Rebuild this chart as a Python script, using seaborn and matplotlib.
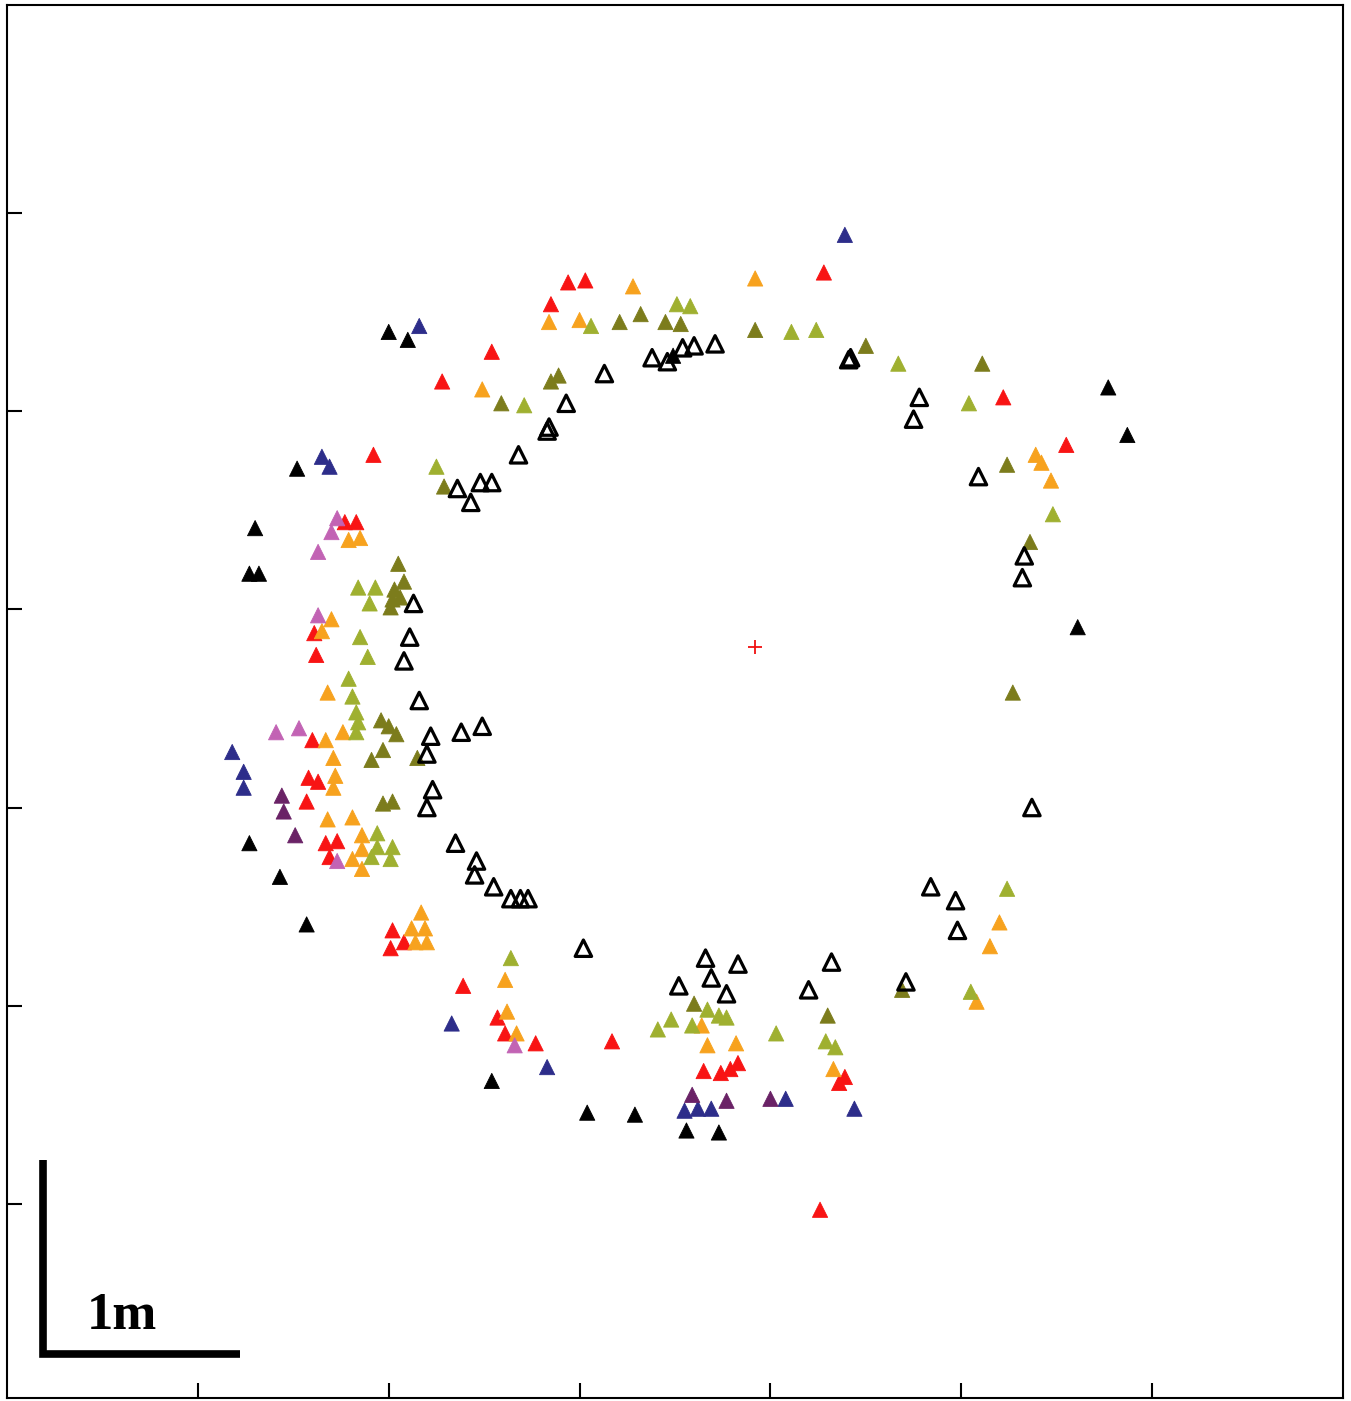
import matplotlib
matplotlib.use("Agg")
import matplotlib.pyplot as plt
import seaborn as sns
import pandas as pd

# ------------------------------------------------------------------ #
# Find positions (m)
# ------------------------------------------------------------------ #
black_x = [2.00, 2.10, 1.52, 1.30, 1.27, 1.32, 1.27, 1.43, 1.57, 2.54, 3.04, 3.29,
           3.56, 3.73, 5.77, 5.87, 5.61, 3.49]
black_y = [5.40, 5.36, 4.71, 4.41, 4.18, 4.18, 2.82, 2.65, 2.41, 1.62, 1.46, 1.45,
           1.37, 1.36, 5.12, 4.88, 3.91, 5.28]

open_x = [2.68, 2.36, 2.48, 2.54, 2.43, 3.38, 3.46, 3.54, 3.60, 3.71, 3.13, 2.93,
          2.83, 2.84, 4.42, 4.41, 4.78, 4.75, 5.09, 5.33, 5.32, 5.37, 4.84, 4.97,
          4.98, 4.32, 4.20, 4.71, 3.66, 3.83, 3.69, 3.52, 3.77, 3.02, 2.64, 2.69,
          2.73, 2.55, 2.46, 2.45, 2.35, 2.23, 2.20, 2.20, 2.22, 2.38, 2.49, 2.16,
          2.08, 2.11, 2.13]
open_y = [4.78, 4.61, 4.64, 4.64, 4.54, 5.27, 5.25, 5.32, 5.33, 5.34, 5.19, 5.04,
          4.90, 4.92, 5.27, 5.26, 5.07, 4.96, 4.67, 4.27, 4.16, 3.00, 2.60, 2.53,
          2.38, 2.22, 2.08, 2.12, 2.24, 2.21, 2.14, 2.10, 2.06, 2.29, 2.54, 2.54,
          2.54, 2.60, 2.73, 2.66, 2.82, 3.09, 3.00, 3.27, 3.36, 3.38, 3.41, 3.54,
          3.74, 3.86, 4.03]

red_x = [2.54, 2.28, 1.92, 1.83, 1.77, 2.94, 3.03, 2.85, 4.28, 5.22, 5.55, 4.36,
         4.39, 4.26, 3.65, 3.74, 3.79, 3.83, 2.77, 3.17, 2.57, 2.61, 2.39, 2.02,
         2.01, 2.08, 1.61, 1.62, 1.60, 1.58, 1.63, 1.57, 1.67, 1.73, 1.69]
red_y = [5.30, 5.15, 4.78, 4.44, 4.44, 5.65, 5.66, 5.54, 5.70, 5.07, 4.83, 1.61,
         1.64, 0.97, 1.67, 1.66, 1.68, 1.71, 1.81, 1.82, 1.94, 1.86, 2.10, 2.38,
         2.29, 2.32, 3.88, 3.77, 3.34, 3.15, 3.13, 3.03, 2.82, 2.83, 2.75]

orange_x = [2.49, 1.79, 1.85, 3.28, 3.92, 2.84, 3.00, 5.39, 5.42, 5.47, 5.20, 5.15,
            5.08, 4.33, 3.64, 3.67, 3.82, 2.17, 2.19, 2.12, 2.14, 2.20, 2.61, 2.62,
            2.67, 1.70, 1.65, 1.68, 1.67, 1.76, 1.71, 1.72, 1.71, 1.68, 1.81, 1.86,
            1.86, 1.81, 1.86]
orange_y = [5.11, 4.35, 4.36, 5.63, 5.67, 5.45, 5.46, 4.78, 4.74, 4.65, 2.42, 2.30,
            2.02, 1.68, 1.90, 1.80, 1.81, 2.47, 2.39, 2.39, 2.32, 2.32, 2.13, 1.97,
            1.86, 3.95, 3.89, 3.58, 3.34, 3.38, 3.25, 3.16, 3.10, 2.94, 2.95, 2.86,
            2.79, 2.74, 2.69]

green_x = [2.71, 2.25, 3.06, 3.51, 3.58, 4.11, 4.24, 4.67, 5.04, 5.48, 5.24, 5.05,
           4.29, 4.34, 4.03, 3.67, 3.73, 3.77, 3.48, 3.41, 3.59, 2.64, 1.84, 1.93,
           1.90, 1.85, 1.89, 1.79, 1.81, 1.83, 1.84, 1.83, 1.94, 1.94, 2.02, 1.91,
           2.01]
green_y = [5.03, 4.72, 5.43, 5.54, 5.53, 5.40, 5.41, 5.24, 5.04, 4.48, 2.59, 2.07,
           1.82, 1.79, 1.86, 1.98, 1.95, 1.94, 1.93, 1.88, 1.90, 2.24, 4.11, 4.11,
           4.03, 3.86, 3.76, 3.65, 3.56, 3.48, 3.43, 3.38, 2.87, 2.80, 2.80, 2.75,
           2.74]

olive_x = [2.59, 2.29, 3.21, 3.32, 3.45, 3.53, 3.92, 2.85, 2.89, 4.50, 5.11, 5.24,
           5.36, 5.27, 4.69, 4.30, 3.60, 2.05, 2.08, 2.03, 2.02, 2.01, 2.06, 1.96,
           2.00, 2.04, 1.97, 1.91, 2.15, 1.97, 2.02]
olive_y = [5.04, 4.62, 5.45, 5.49, 5.45, 5.44, 5.41, 5.15, 5.18, 5.33, 5.24, 4.73,
           4.34, 3.58, 2.08, 1.95, 2.01, 4.23, 4.14, 4.10, 4.05, 4.01, 4.06, 3.44,
           3.41, 3.37, 3.29, 3.24, 3.25, 3.02, 3.03]

blue_x = [2.16, 1.65, 1.69, 4.39, 4.44, 2.83, 2.33, 3.55, 3.62, 3.69, 4.08, 1.18,
          1.24, 1.24]
blue_y = [5.43, 4.77, 4.72, 5.89, 1.48, 1.69, 1.91, 1.47, 1.48, 1.48, 1.53, 3.28,
          3.18, 3.10]

purple_x = [3.59, 3.77, 4.00, 1.44, 1.45, 1.51]
purple_y = [1.55, 1.52, 1.53, 3.06, 2.98, 2.86]

pink_x = [1.73, 1.70, 1.63, 1.63, 1.41, 1.53, 1.73, 2.66]
pink_y = [4.46, 4.39, 4.29, 3.97, 3.38, 3.40, 2.73, 1.80]

centre = (3.92, 3.81)
grid_ticks = [1, 2, 3, 4, 5, 6]

palette = {
    "black": "#000000",
    "red": "#f81414",
    "orange": "#f7a21e",
    "green": "#9fb030",
    "olive": "#7c7c1c",
    "blue": "#2d2d8a",
    "purple": "#6a2266",
    "pink": "#c263b4",
}

groups = {
    "black": (black_x, black_y),
    "red": (red_x, red_y),
    "orange": (orange_x, orange_y),
    "green": (green_x, green_y),
    "olive": (olive_x, olive_y),
    "blue": (blue_x, blue_y),
    "purple": (purple_x, purple_y),
    "pink": (pink_x, pink_y),
}
frames = []
for kind, (xs, ys) in groups.items():
    frames.append(pd.DataFrame({"x": xs, "y": ys, "kind": kind}))
finds = pd.concat(frames, ignore_index=True)
open_finds = pd.DataFrame({"x": open_x, "y": open_y})

# ------------------------------------------------------------------ #
# Figure
# ------------------------------------------------------------------ #
sns.set_style("ticks")
fig = plt.figure(figsize=(13.51, 14.01), dpi=100)
ax = fig.add_axes([7 / 1351, 3 / 1401, 1336 / 1351, 1393 / 1401])

sns.scatterplot(data=finds, x="x", y="y", hue="kind", palette=palette,
                marker="^", s=120, edgecolor="face", linewidth=0.6,
                legend=False, ax=ax, zorder=3)
sns.scatterplot(data=open_finds, x="x", y="y", marker="^", s=140,
                facecolor="none", edgecolor="black", linewidth=2.3,
                legend=False, ax=ax, zorder=4)
ax.plot(*centre, marker="+", color="#f01010", markersize=10, mew=1.3)

# scale bar
ax.plot([0.19, 0.19, 1.22], [1.22, 0.24, 0.24], color="black", lw=5.5,
        solid_joinstyle="miter", solid_capstyle="butt")
ax.text(0.42, 0.37, "1m", fontsize=38, fontweight="bold", color="black",
        family="Liberation Serif", ha="left", va="baseline")

ax.set_xlim(0, 7)
ax.set_ylim(0.02, 7.05)
ax.set_xticks(grid_ticks)
ax.set_yticks(grid_ticks)
ax.set_xticklabels([])
ax.set_yticklabels([])
ax.set_xlabel("")
ax.set_ylabel("")
ax.tick_params(direction="in", length=11, width=1.5, color="black",
               bottom=True, left=True, top=False, right=False)
for side in ax.spines.values():
    side.set_linewidth(1.5)
    side.set_color("black")

fig.savefig("out.png", dpi=100)
